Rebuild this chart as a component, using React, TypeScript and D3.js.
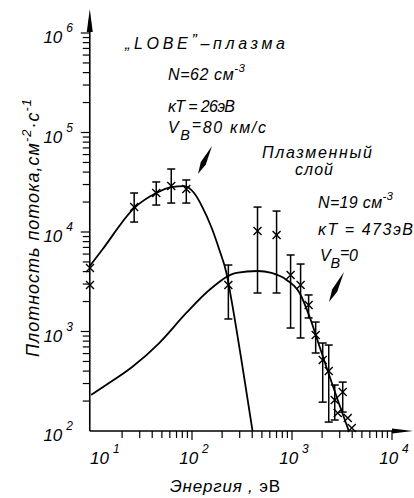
import { useEffect, useRef } from "react";
import * as d3 from "d3";

// energy (eV) / flux values
// fitted curve, "LOBE" plasma
const lobeCurveE = [9.5, 12.6, 26.4, 43.9, 62, 83.8, 105, 127, 156, 188, 221, 248, 320, 403];
const lobeCurveF = [4550, 6590, 17400, 24660, 28300, 28970, 24660, 17800, 11220, 6590, 3873, 2075, 440, 100];

// fitted curve, plasma sheet
const sheetCurveE = [9.8, 14.8, 25.2, 47, 87.7, 149, 278, 452, 624, 883, 1191, 1502, 1893, 2224, 2866, 3700];
const sheetCurveF = [230, 303, 440, 766, 1535, 2612, 3873, 4055, 3873, 3296, 2438, 1400, 698, 430, 205, 100];

// measured points (null = no error bar)
const lobeE = [9.55, 9.55, 26.4, 43.9, 62, 87.7, 231];
const lobeF = [4347, 2931, 17800, 24660, 28970, 27040, 2931];
const lobeHi = [null, null, 24660, 31840, 42960, 33340, 4656];
const lobeLo = [null, null, 12590, 18660, 19540, 19540, 1336];

const sheetE = [452, 701, 968, 1219, 1466, 1725, 2028, 2330, 2675, 3215, 2866, 3610, 3960];
const sheetF = [10230, 9330, 3700, 2931, 1845, 922, 517, 401, 205, 247, 152, 135, 107];
const sheetHi = [17800, 16240, 5875, 4765, 2329, 1245, 766, 731, 290, 310, null, null, null];
const sheetLo = [2438, 2438, 1084, 861, 1368, 608, 195, 123, 129, 155, null, null, null];

const yTickExp = [2, 3, 4, 5, 6];
const xTickExp = [1, 2, 3, 4];

const FONT = "'Liberation Sans', Arial, sans-serif";

type Part = [string, "n" | "sup" | "sub" | "up"];

export default function App() {
  const ref = useRef<SVGSVGElement>(null);

  useEffect(() => {
    const svg = d3.select(ref.current);
    svg.selectAll("*").remove();

    const x = d3.scaleLog().domain([10, 1e4]).range([92, 392]);
    const y = d3.scaleLog().domain([100, 1e6]).range([431, 33]);
    const x0 = x(9.5);
    const y0 = y(100);

    const g = svg.append("g").attr("font-family", FONT);

    // axes
    g.append("line").attr("x1", x0).attr("y1", y0).attr("x2", 400).attr("y2", y0)
      .attr("stroke", "#000").attr("stroke-width", 1.6);
    g.append("line").attr("x1", x0).attr("y1", y0).attr("x2", x0).attr("y2", 20)
      .attr("stroke", "#000").attr("stroke-width", 1.6);
    g.append("polygon").attr("points", `${x0},9 ${x0 - 3},32 ${x0 + 3},32`).attr("fill", "#000");
    g.append("polygon").attr("points", `413,${y0} 392,${y0 - 2.6} 392,${y0 + 2.6}`).attr("fill", "#000");

    // y ticks
    for (let n = 2; n <= 5; n++) {
      for (let k = 1; k <= 9; k++) {
        const v = k * Math.pow(10, n);
        if (v <= 100) continue;
        g.append("line").attr("x1", x0).attr("x2", x0 - (k === 1 ? 9 : 7))
          .attr("y1", y(v)).attr("y2", y(v)).attr("stroke", "#000").attr("stroke-width", 1.2);
      }
    }
    g.append("line").attr("x1", x0).attr("x2", x0 - 9)
      .attr("y1", y(1e6)).attr("y2", y(1e6)).attr("stroke", "#000").attr("stroke-width", 1.2);

    // x ticks
    for (let n = 1; n <= 3; n++) {
      for (let k = 2; k <= 10; k++) {
        const v = k * Math.pow(10, n);
        g.append("line").attr("x1", x(v)).attr("x2", x(v))
          .attr("y1", y0).attr("y2", y0 + (k === 10 ? 9 : 7)).attr("stroke", "#000").attr("stroke-width", 1.2);
      }
    }

    // tick labels
    yTickExp.forEach(e => {
      const t = g.append("text").attr("x", 73).attr("y", y(Math.pow(10, e)) + 10)
        .attr("text-anchor", "end").attr("font-style", "italic").attr("font-size", 17);
      t.append("tspan").text("10");
      t.append("tspan").attr("dx", 4).attr("dy", -11).attr("font-size", 12).text(String(e));
    });
    xTickExp.forEach(e => {
      const cx = Math.max(x(Math.pow(10, e)) + 2, x0 + 15);
      const t = g.append("text").attr("x", cx).attr("y", 464)
        .attr("text-anchor", "middle").attr("font-style", "italic").attr("font-size", 17);
      t.append("tspan").text("10");
      t.append("tspan").attr("dx", 4).attr("dy", -11).attr("font-size", 12).text(String(e));
    });

    // curves
    const line = d3.line<[number, number]>()
      .x(d => x(d[0])).y(d => y(d[1])).curve(d3.curveMonotoneX);
    const lobeCurve = lobeCurveE.map((e, i) => [e, lobeCurveF[i]] as [number, number]);
    const sheetCurve = sheetCurveE.map((e, i) => [e, sheetCurveF[i]] as [number, number]);
    [lobeCurve, sheetCurve].forEach(c => {
      g.append("path").attr("d", line(c)).attr("fill", "none")
        .attr("stroke", "#000").attr("stroke-width", 1.8);
    });

    // points with error bars
    const drawPoints = (E: number[], F: number[], hi: (number | null)[], lo: (number | null)[]) => {
      E.forEach((e, i) => {
        const px = x(e), py = y(F[i]);
        const h = hi[i], l = lo[i];
        if (h != null && l != null) {
          g.append("line").attr("x1", px).attr("x2", px).attr("y1", y(h)).attr("y2", y(l))
            .attr("stroke", "#000").attr("stroke-width", 1.5);
          [h, l].forEach(v => {
            g.append("line").attr("x1", px - 4).attr("x2", px + 4).attr("y1", y(v)).attr("y2", y(v))
              .attr("stroke", "#000").attr("stroke-width", 1.5);
          });
        }
        const s = 4;
        g.append("path").attr("d", `M${px - s},${py - s}L${px + s},${py + s}M${px - s},${py + s}L${px + s},${py - s}`)
          .attr("stroke", "#000").attr("stroke-width", 1.4).attr("fill", "none");
      });
    };
    drawPoints(lobeE, lobeF, lobeHi, lobeLo);
    drawPoints(sheetE, sheetF, sheetHi, sheetLo);

    // annotation text
    const label = (tx: number, ty: number, parts: Part[], len?: number, size = 16) => {
      const t = g.append("text").attr("x", tx).attr("y", ty)
        .attr("font-style", "italic").attr("font-size", size);
      if (len) t.attr("textLength", len).attr("lengthAdjust", "spacing");
      let shift = 0;
      parts.forEach(([s, kind]) => {
        const ts = t.append("tspan").text(s);
        let target = 0;
        if (kind === "sup") { target = -8; ts.attr("font-size", size * 0.72); }
        if (kind === "sub") { target = 7; ts.attr("font-size", size * 0.9); }
        if (kind === "up") { target = -3; }
        if (target - shift !== 0) ts.attr("dy", target - shift);
        shift = target;
      });
      return t;
    };

    label(125, 49, [["„LOBE", "n"], ["”", "up"], ["–плазма", "n"]], 160);
    label(168, 80, [["N=62 см", "n"], ["-3", "sup"]], 77);
    label(168, 112, [["κТ = 26эВ", "n"]], 67);
    label(168, 133, [["V", "n"], ["B", "sub"], ["=", "up"], ["80 км/с", "n"]], 98);

    label(262, 158, [["Плазменный", "n"]], 110);
    label(295, 175, [["слой", "n"]], 38);
    label(318, 208, [["N=19 см", "n"], ["-3", "sup"]], 75);
    label(318, 235, [["κТ = 473эВ", "n"]], 95);
    label(320, 261, [["V", "n"], ["B", "sub"], ["=", "up"], ["0", "n"]], 38);

    // pointer darts
    const dart = (tx: number, ty: number, hx: number, hy: number) => {
      const dx = hx - tx, dy = hy - ty;
      const len = Math.hypot(dx, dy);
      const ux = dx / len, uy = dy / len;
      const px = -uy, py = ux;
      const mx = tx + dx * 0.62, my = ty + dy * 0.62;
      const w = 2.8;
      g.append("polygon")
        .attr("points", `${tx},${ty} ${mx + px * w},${my + py * w} ${hx},${hy} ${mx - px * w},${my - py * w}`)
        .attr("fill", "#000");
    };
    dart(212, 146, 198, 174);
    dart(344, 272, 329, 302);

    // axis titles
    const yl = g.append("text").attr("transform", "translate(39,228) rotate(-90)")
      .attr("text-anchor", "middle").attr("font-style", "italic").attr("font-size", 18)
      .attr("textLength", 258).attr("lengthAdjust", "spacing");
    yl.append("tspan").text("Плотность потока,см");
    yl.append("tspan").attr("dy", -8).attr("font-size", 13).text("-2");
    yl.append("tspan").attr("dy", 8).text("·с");
    yl.append("tspan").attr("dy", -8).attr("font-size", 13).text("-1");

    const xl = g.append("text").attr("x", 170).attr("y", 492).attr("font-size", 17)
      .attr("textLength", 110).attr("lengthAdjust", "spacing");
    xl.append("tspan").attr("font-style", "italic").text("Энергия ,");
    xl.append("tspan").text(" эВ");
  }, []);

  return (
    <div>
      <svg ref={ref} width={414} height={498}
        style={{ position: "absolute", left: 0, top: 0, background: "#fff" }} />
    </div>
  );
}
